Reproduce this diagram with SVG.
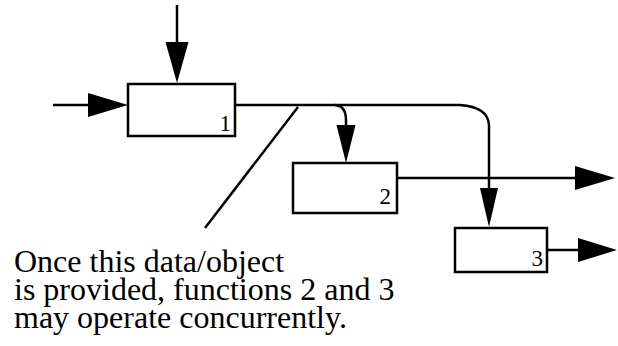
<svg xmlns="http://www.w3.org/2000/svg" width="618" height="346" viewBox="0 0 618 346">
<style>
.box{fill:#fff;stroke:#000;stroke-width:2.5}
.ln{fill:none;stroke:#000;stroke-width:2.5}
.num{font-family:"Liberation Serif",serif;font-size:23px;fill:#000;text-anchor:end}
.note{font-family:"Liberation Serif",serif;font-size:32px;fill:#000}
.ah{fill:#000}
</style>
<rect width="618" height="346" fill="#fff"/>
<g id="connectors">
<line class="ln" x1="177" y1="5" x2="177" y2="45"/>
<polygon class="ah" points="165.5,42 188.5,42 177,83"/>
<line class="ln" x1="53" y1="105" x2="92" y2="105"/>
<polygon class="ah" points="88,93 88,117 128,105"/>
<path class="ln" d="M235,105 H460 Q488,107 489,125 V190"/>
<path class="ln" d="M335,105 Q346,106 346,120 V128"/>
<polygon class="ah" points="336.5,125 355.5,125 346,163"/>
<polygon class="ah" points="480,188 498,188 489,227"/>
<line class="ln" x1="397" y1="178" x2="578" y2="178"/>
<polygon class="ah" points="575,166 575,190 615,178"/>
<line class="ln" x1="547" y1="250" x2="580" y2="250"/>
<polygon class="ah" points="578,238 578,262 617,250"/>
<line class="ln" x1="298" y1="107" x2="205" y2="228"/>
</g>
<g id="node1">
<rect class="box" x="128" y="84" width="107" height="52"/>
<text class="num" x="231" y="131">1</text>
</g>
<g id="node2">
<rect class="box" x="293" y="163" width="104" height="50"/>
<text class="num" x="391" y="204">2</text>
</g>
<g id="node3">
<rect class="box" x="455" y="228" width="92" height="44"/>
<text class="num" x="543" y="266">3</text>
</g>
<g id="note">
<text class="note" x="14" y="272">Once this data/object</text>
<text class="note" x="14" y="300">is provided, functions 2 and 3</text>
<text class="note" x="14" y="328">may operate concurrently.</text>
</g>
</svg>
